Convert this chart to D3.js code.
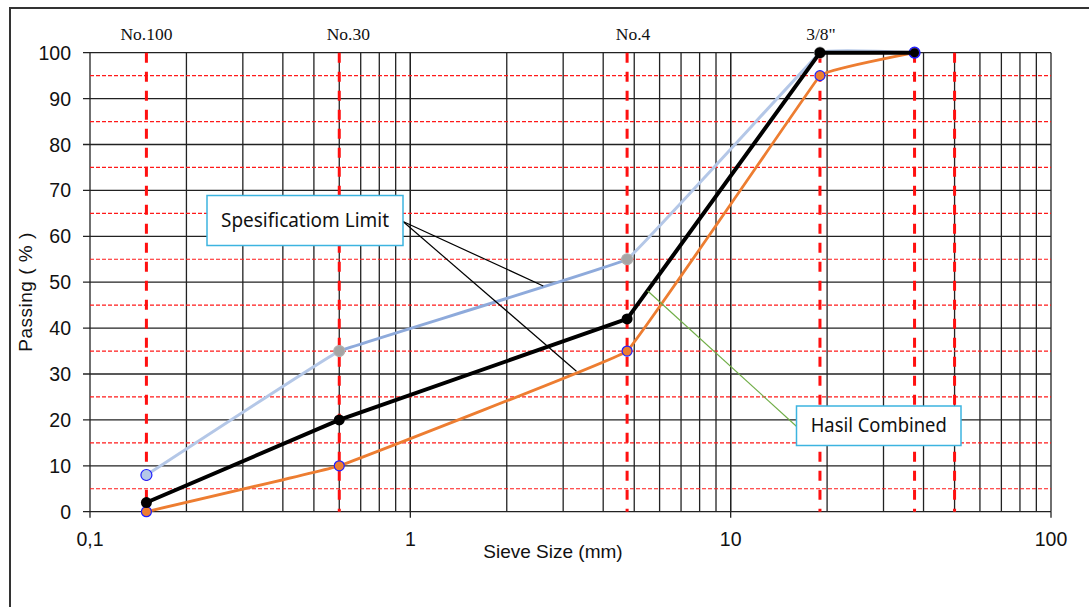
<!DOCTYPE html>
<html>
<head>
<meta charset="utf-8">
<script src="https://cdn.jsdelivr.net/npm/d3@7"></script>
<style>
  body { margin: 0; background: #fff; }
  svg { display: block; }
</style>
</head>
<body>
<svg id="chart"></svg>
<script>
// sieve sizes (mm) and % passing
const sieves = [0.15, 0.6, 4.75, 19, 37.5];
const upperLimit = [8, 35, 55, 100, 100];
const lowerLimit = [0, 10, 35, 95, 100];
const combined = [2, 20, 42, 100, 100];

// red dashed sieve markers and their labels
const sieveLines = [0.15, 0.6, 4.75, 19, 37.5, 50];
const sieveNames = ["No.100", "No.30", "No.4", "3/8\""];

const yTicks = [0, 10, 20, 30, 40, 50, 60, 70, 80, 90, 100];
const yHalfTicks = [5, 15, 25, 35, 45, 55, 65, 75, 85, 95];
const xTicks = [0.1, 1, 10, 100];
const xTickLabels = ["0,1", "1", "10", "100"];

const width = 1089;
const height = 607;
const margin = { left: 90, right: 38, top: 52.7, bottom: 95.3 };

const svg = d3.select('#chart')
    .attr('width', width)
    .attr('height', height);

const x = d3.scaleLog()
    .domain([0.1, 100])
    .range([margin.left, width - margin.right]);
const y = d3.scaleLinear()
    .domain([0, 100])
    .range([height - margin.bottom, margin.top]);

// outer frame
svg.append('rect')
    .attr('x', 10).attr('y', 8)
    .attr('width', 1200).attr('height', 800)
    .attr('fill', 'none')
    .attr('stroke', '#333')
    .attr('stroke-width', 2);

// minor log grid
const minor = [];
[0.1, 1, 10].forEach(dec => {
    for (let i = 1; i <= 10; i++) minor.push(dec * i);
});
svg.append('g').selectAll('line')
    .data(minor)
    .enter().append('line')
    .attr('x1', d => x(d)).attr('x2', d => x(d))
    .attr('y1', y(0)).attr('y2', y(100))
    .attr('stroke', '#222')
    .attr('stroke-width', 1.3);

// horizontal red dashed at half decades
svg.append('g').selectAll('line')
    .data(yHalfTicks)
    .enter().append('line')
    .attr('x1', x(0.1)).attr('x2', x(100))
    .attr('y1', d => y(d)).attr('y2', d => y(d))
    .attr('stroke', '#ff1a1a')
    .attr('stroke-width', 1.2)
    .attr('stroke-dasharray', '4,2');

// horizontal solid grid
svg.append('g').selectAll('line')
    .data(yTicks)
    .enter().append('line')
    .attr('x1', x(0.1) - 7).attr('x2', x(100))
    .attr('y1', d => y(d)).attr('y2', d => y(d))
    .attr('stroke', '#222')
    .attr('stroke-width', 1.3);

// x major ticks
svg.append('g').selectAll('line')
    .data(xTicks)
    .enter().append('line')
    .attr('x1', d => x(d)).attr('x2', d => x(d))
    .attr('y1', y(0)).attr('y2', y(0) + 6)
    .attr('stroke', '#222')
    .attr('stroke-width', 1.3);

// vertical red dashed sieve lines
svg.append('g').selectAll('line')
    .data(sieveLines)
    .enter().append('line')
    .attr('x1', d => x(d)).attr('x2', d => x(d))
    .attr('y1', y(100)).attr('y2', y(0))
    .attr('stroke', '#ff1010')
    .attr('stroke-width', 3)
    .attr('stroke-dasharray', '10,9');

// sieve labels
const labelShift = [0, 9, 6, 1];
svg.append('g').selectAll('text')
    .data(sieveNames)
    .enter().append('text')
    .attr('x', (d, i) => x(sieves[i]) + labelShift[i])
    .attr('y', 40)
    .attr('text-anchor', 'middle')
    .style('font-family', '"Liberation Serif", "Times New Roman", serif')
    .style('font-size', '17.5px')
    .style('fill', '#111')
    .text(d => d);

// axis labels
svg.append('g').selectAll('text')
    .data(yTicks)
    .enter().append('text')
    .attr('x', 71)
    .attr('y', d => y(d))
    .attr('dy', '0.36em')
    .attr('text-anchor', 'end')
    .style('font-family', '"Liberation Sans", Arial, sans-serif')
    .style('font-size', '19.5px')
    .style('fill', '#111')
    .text(d => d);

svg.append('g').selectAll('text')
    .data(xTicks)
    .enter().append('text')
    .attr('x', d => x(d))
    .attr('y', 546)
    .attr('text-anchor', 'middle')
    .style('font-family', '"Liberation Sans", Arial, sans-serif')
    .style('font-size', '19.5px')
    .style('fill', '#111')
    .text((d, i) => xTickLabels[i]);

svg.append('text')
    .attr('x', 553)
    .attr('y', 558)
    .attr('text-anchor', 'middle')
    .style('font-family', '"Liberation Sans", Arial, sans-serif')
    .style('font-size', '19px')
    .style('fill', '#111')
    .text('Sieve Size (mm)');

svg.append('text')
    .attr('transform', 'translate(32, 292) rotate(-90)')
    .attr('text-anchor', 'middle')
    .style('font-family', '"Liberation Sans", Arial, sans-serif')
    .style('font-size', '19px')
    .style('letter-spacing', '0.5px')
    .style('fill', '#111')
    .text('Passing ( % )');

// series
const pts = vals => sieves.map((s, i) => [s, vals[i]]);
const smooth = d3.line()
    .x(d => x(d[0])).y(d => y(d[1]))
    .curve(d3.curveCardinal.tension(0.88));
const straight = d3.line()
    .x(d => x(d[0])).y(d => y(d[1]));

// upper limit line changes shade between points
const grad = svg.append('defs').append('linearGradient')
    .attr('id', 'upperGrad')
    .attr('gradientUnits', 'userSpaceOnUse')
    .attr('x1', x(0.1)).attr('x2', x(100))
    .attr('y1', 0).attr('y2', 0);
const span = x(100) - x(0.1);
const off = v => (x(v) - x(0.1)) / span;
[[0, '#b4c7e7'], [off(0.6), '#b4c7e7'], [off(0.6), '#8eaadb'],
 [off(4.75), '#8eaadb'], [off(4.75), '#b4c7e7'], [1, '#b4c7e7']]
    .forEach(s => grad.append('stop').attr('offset', s[0]).attr('stop-color', s[1]));

svg.append('path')
    .attr('d', smooth(pts(upperLimit)))
    .attr('fill', 'none')
    .attr('stroke', 'url(#upperGrad)')
    .attr('stroke-width', 3);

svg.append('path')
    .attr('d', smooth(pts(lowerLimit)))
    .attr('fill', 'none')
    .attr('stroke', '#ed7d31')
    .attr('stroke-width', 2.8);

const upperFill = ['#b4c7e7', '#a5a5a5', '#a5a5a5', '#a5a5a5', '#3344dd'];
const upperStroke = ['#1f1fff', '#b0b0b0', '#b0b0b0', '#b0b0b0', '#1f1fff'];
svg.append('g').selectAll('circle')
    .data(pts(upperLimit))
    .enter().append('circle')
    .attr('cx', d => x(d[0])).attr('cy', d => y(d[1]))
    .attr('r', 5.5)
    .attr('fill', (d, i) => upperFill[i])
    .attr('stroke', (d, i) => upperStroke[i])
    .attr('stroke-width', 1.2);

svg.append('g').selectAll('circle')
    .data(pts(lowerLimit))
    .enter().append('circle')
    .attr('cx', d => x(d[0])).attr('cy', d => y(d[1]))
    .attr('r', 5)
    .attr('fill', '#ed7d31')
    .attr('stroke', '#1f1fff')
    .attr('stroke-width', 1.2);

svg.append('path')
    .attr('d', straight(pts(combined)))
    .attr('fill', 'none')
    .attr('stroke', '#000')
    .attr('stroke-width', 4);

svg.append('g').selectAll('circle')
    .data(pts(combined))
    .enter().append('circle')
    .attr('cx', d => x(d[0])).attr('cy', d => y(d[1]))
    .attr('r', (d, i) => i === 4 ? 4.5 : 5.5)
    .attr('fill', '#000');

// point on a series at a given sieve size (log-linear between points)
function at(vals, s) {
    for (let i = 0; i < sieves.length - 1; i++) {
        if (s >= sieves[i] && s <= sieves[i + 1]) {
            const t = (Math.log(s) - Math.log(sieves[i])) / (Math.log(sieves[i + 1]) - Math.log(sieves[i]));
            return [x(s), y(vals[i] + t * (vals[i + 1] - vals[i]))];
        }
    }
}

// callouts
const up = at(upperLimit, 2.6);
const lo = at(lowerLimit, 3.3);
const cb = at(combined, 5.5);
[up, lo].forEach(p => {
    svg.append('line')
        .attr('x1', 403).attr('y1', 221.5)
        .attr('x2', p[0]).attr('y2', p[1])
        .attr('stroke', '#000').attr('stroke-width', 1.2);
});
svg.append('line')
    .attr('x1', 798).attr('y1', 427.7)
    .attr('x2', cb[0]).attr('y2', cb[1])
    .attr('stroke', '#70ad47').attr('stroke-width', 1.2);

function callout(x0, y0, w, h, label, tw) {
    svg.append('rect')
        .attr('x', x0).attr('y', y0)
        .attr('width', w).attr('height', h)
        .attr('fill', '#fff')
        .attr('stroke', '#3cb4e0')
        .attr('stroke-width', 1.5);
    svg.append('text')
        .attr('x', x0 + w / 2).attr('y', y0 + h / 2)
        .attr('dy', '0.35em')
        .attr('text-anchor', 'middle')
        .attr('textLength', tw)
        .attr('lengthAdjust', 'spacingAndGlyphs')
        .style('font-family', '"Noto Sans", "Open Sans", sans-serif')
        .style('font-size', '19px')
        .style('fill', '#111')
        .text(label);
}
callout(207, 195.5, 196, 50, 'Spesificatiom Limit', 168);
callout(796.5, 406, 164.5, 39.5, 'Hasil Combined', 136);
</script>
</body>
</html>
